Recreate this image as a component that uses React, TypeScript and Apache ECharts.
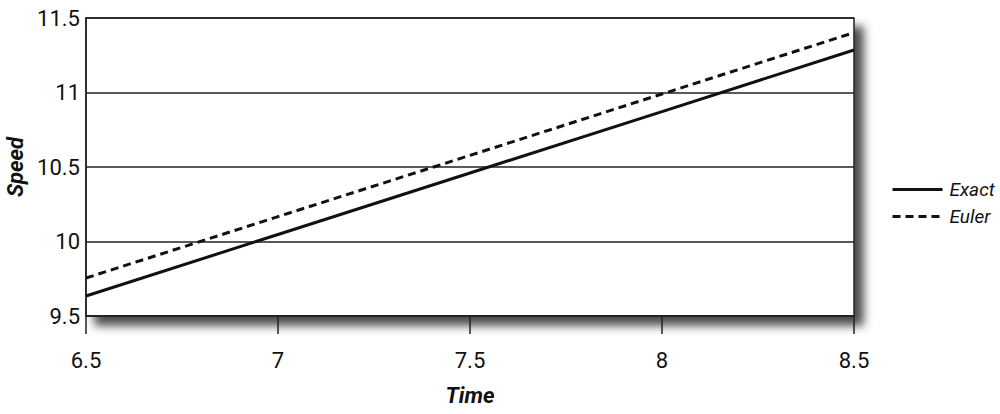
import React, { useEffect, useRef } from "react";
import * as echarts from "echarts";

const times = [6.5, 7, 7.5, 8, 8.5];
const exactSpeed = [9.634, 10.047, 10.46, 10.872, 11.285];
const eulerSpeed = [9.755, 10.167, 10.578, 10.99, 11.402];
const seriesNames = ["Exact", "Euler"];

const FONT = "'Liberation Sans Narrow', 'Roboto', 'Liberation Sans', sans-serif";

export default function App() {
  const ref = useRef<HTMLDivElement>(null);
  useEffect(() => {
    if (!ref.current) return;
    const chart = echarts.init(ref.current, undefined, { renderer: "svg" });
    const toPairs = (ys: number[]) => times.map((t, i) => [t, ys[i]]);
    chart.setOption({
      animation: false,
      backgroundColor: "#fff",
      grid: {
        left: 86,
        right: 146,
        top: 18,
        bottom: 98,
        outerBoundsMode: "none",
        containLabel: false,
        show: true,
        backgroundColor: "#fff",
        borderColor: "#222",
        borderWidth: 1.5,
        shadowColor: "rgba(0,0,0,0.7)",
        shadowBlur: 10,
        shadowOffsetX: 9,
        shadowOffsetY: 9,
      },
      legend: {
        orient: "vertical",
        left: 886,
        top: 175,
        itemWidth: 50,
        itemHeight: 14,
        itemGap: 8,
        data: seriesNames,
        itemStyle: { opacity: 0 },
        lineStyle: { width: 3 },
        textStyle: { fontFamily: FONT, fontStyle: "italic", fontSize: 19, color: "#111", padding: [0, 0, 0, 2] },
      },
      xAxis: {
        type: "value",
        min: 6.5,
        max: 8.5,
        interval: 0.5,
        name: "Time",
        nameLocation: "middle",
        nameGap: 68,
        nameTextStyle: { fontFamily: FONT, fontStyle: "italic", fontWeight: "bold", fontSize: 22, color: "#111" },
        axisLine: { show: true, lineStyle: { color: "#222", width: 1.5 } },
        axisTick: { show: true, length: 18, lineStyle: { color: "#222", width: 1.5 } },
        axisLabel: { margin: 33, fontFamily: FONT, fontSize: 22, color: "#111", formatter: (v: number) => String(v) },
        splitLine: { show: false },
      },
      yAxis: {
        type: "value",
        min: 9.5,
        max: 11.5,
        interval: 0.5,
        name: "Speed",
        nameLocation: "middle",
        nameGap: 60,
        nameTextStyle: { fontFamily: FONT, fontStyle: "italic", fontWeight: "bold", fontSize: 22, color: "#111" },
        axisLine: { show: true, lineStyle: { color: "#222", width: 1.5 } },
        axisTick: { show: false },
        axisLabel: { margin: 6, fontFamily: FONT, fontSize: 22, color: "#111", formatter: (v: number) => String(v) },
        splitLine: { show: true, lineStyle: { color: "#222", width: 1.5 } },
      },
      series: [
        {
          name: seriesNames[0],
          type: "line",
          data: toPairs(exactSpeed),
          symbol: "none",
          lineStyle: { color: "#111", width: 3, type: "solid" },
          itemStyle: { color: "#111" },
        },
        {
          name: seriesNames[1],
          type: "line",
          data: toPairs(eulerSpeed),
          symbol: "none",
          lineStyle: { color: "#111", width: 3, type: [8, 5] },
          itemStyle: { color: "#111" },
        },
      ],
    });
    return () => chart.dispose();
  }, []);
  return <div ref={ref} style={{ width: 1000, height: 414, position: "absolute", left: 0, top: 0 }} />;
}
